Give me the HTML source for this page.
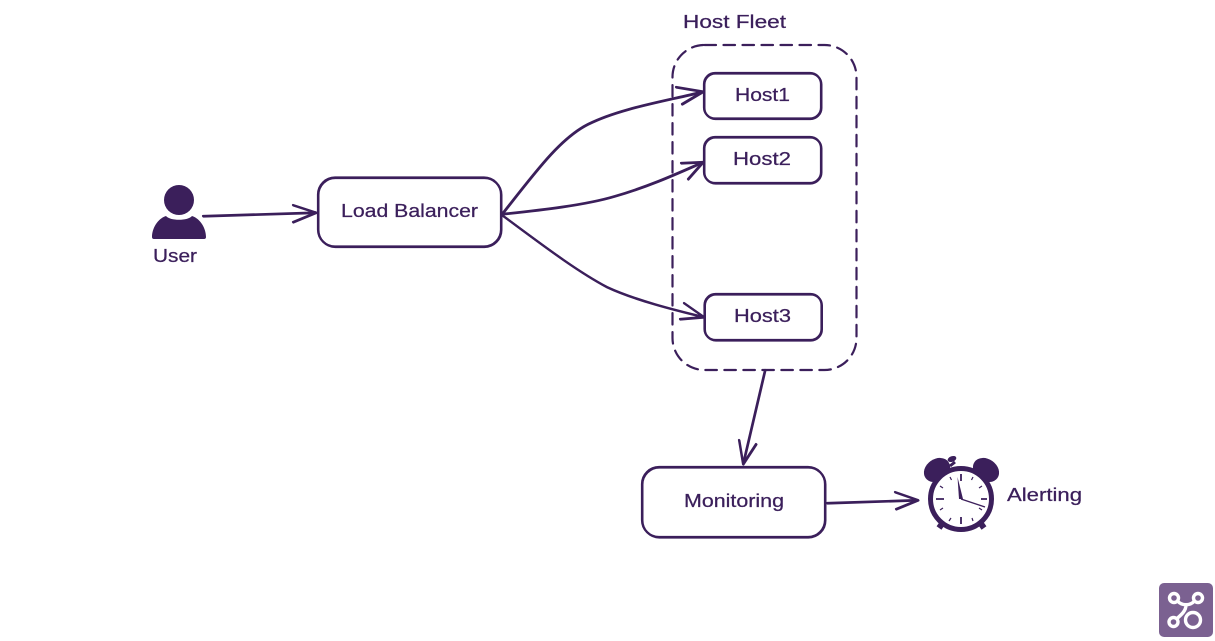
<!DOCTYPE html>
<html><head><meta charset="utf-8"><style>
html,body{margin:0;padding:0;background:#fff;width:1215px;height:641px;overflow:hidden}
svg{display:block}
text{font-family:"Liberation Sans",sans-serif;font-size:18px;fill:#3b1f5b;stroke:#3b1f5b;stroke-width:.25}
.l{fill:none;stroke:#3b1f5b;stroke-width:2.2;stroke-linecap:round;stroke-linejoin:round}
</style></head><body>
<svg width="1215" height="641" viewBox="0 0 1215 641" xmlns="http://www.w3.org/2000/svg">
<rect class="l" x="672.5" y="45" width="184" height="325" rx="32" stroke-dasharray="11.500 7.500"/>
<g id="s">
<rect class="l" x="318" y="177.500" width="183" height="69" rx="17"/>
<rect class="l" x="704" y="73" width="117" height="45.500" rx="11"/>
<rect class="l" x="704" y="137" width="117" height="46" rx="11"/>
<rect class="l" x="704.500" y="294" width="117" height="46" rx="11"/>
<rect class="l" x="642" y="467" width="183" height="70" rx="17"/>
<path class="l" d="M203 216L316 212.500M293 205L316 212.500L293 222"/>
<path class="l" d="M502 214C535 172 560 138 588 124C620 108 665 101 703 91.500M676 87L703 91.500L682 104"/>
<path class="l" d="M502 214C540 210 585 205 615 196C650 186 680 172 703 162M681 163L703 162L688 179"/>
<path class="l" d="M502 215C540 243 575 270 607 287C635 300 675 310 704 317M684 303L704 317L680 319"/>
<path class="l" d="M765 370L743 464M739 440L743 464L756 444"/>
<path class="l" d="M827 503L918 500M895 492L918 500L896 509"/>
</g>
<use href="#s" transform="translate(.4 .5)"/>
<circle cx="179" cy="200" r="15" fill="#3b1f5b"/>
<path d="M166 216C170 221 188 221 192 216C201 219 206 229 206 237Q206 239 204 239H154Q152 239 152 237C152 229 157 219 166 216Z" fill="#3b1f5b"/>
<text x="153" y="262" textLength="44" lengthAdjust="spacingAndGlyphs">User</text>
<text x="341" y="217" textLength="137" lengthAdjust="spacingAndGlyphs">Load Balancer</text>
<text x="683" y="28" textLength="103" lengthAdjust="spacingAndGlyphs">Host Fleet</text>
<text x="735" y="101" textLength="55" lengthAdjust="spacingAndGlyphs">Host1</text>
<text x="733" y="165" textLength="58" lengthAdjust="spacingAndGlyphs">Host2</text>
<text x="734" y="322" textLength="57" lengthAdjust="spacingAndGlyphs">Host3</text>
<text x="684" y="507" textLength="100" lengthAdjust="spacingAndGlyphs">Monitoring</text>
<text x="1007" y="501" textLength="75" lengthAdjust="spacingAndGlyphs">Alerting</text>
<ellipse cx="937" cy="470" rx="14" ry="11" fill="#3b1f5b" transform="rotate(-35 937 470)"/>
<ellipse cx="986" cy="470" rx="14" ry="11" fill="#3b1f5b" transform="rotate(35 986 470)"/>
<path d="M950 466L955 462" stroke="#3b1f5b" stroke-width="3" fill="none"/>
<ellipse cx="952" cy="459" rx="4.500" ry="2.800" fill="#3b1f5b" transform="rotate(-20 952 459)"/>
<path d="M944 521L939 528M979 521L984 528" stroke="#3b1f5b" stroke-width="6" fill="none"/>
<circle cx="961" cy="499" r="30.500" fill="#fff" stroke="#3b1f5b" stroke-width="5"/>
<path d="M961 474v7M961 517v7M936 499h8M981 499h6" stroke="#3b1f5b" stroke-width="1.800" fill="none"/>
<path d="M950 477l1.500 3M973 477l-1.500 3M940 486l3 2M982 486l-3 2M940 510l3-2M949 521l2-3M973 521l-1-3M982 510l-3-2" stroke="#3b1f5b" stroke-width="1.200" fill="none"/>
<path d="M961 499L985 507" stroke="#3b1f5b" stroke-width="1.300" fill="none"/>
<path d="M957.500 477L963 499H959Z" fill="#3b1f5b"/>
<rect x="1159" y="583" width="54" height="54" rx="5" fill="#7b6191"/>
<g fill="none" stroke="#fff" stroke-width="3.400">
<circle cx="1174" cy="598" r="4.500"/><circle cx="1198" cy="598" r="4.500"/><circle cx="1173.500" cy="622" r="4.500"/><circle cx="1193" cy="620" r="7.500"/>
<path d="M1177.500 601C1182 606 1190 606 1194.500 601M1186 605C1186 611 1181 615 1177 618.500"/>
</g>
</svg>
</body></html>
